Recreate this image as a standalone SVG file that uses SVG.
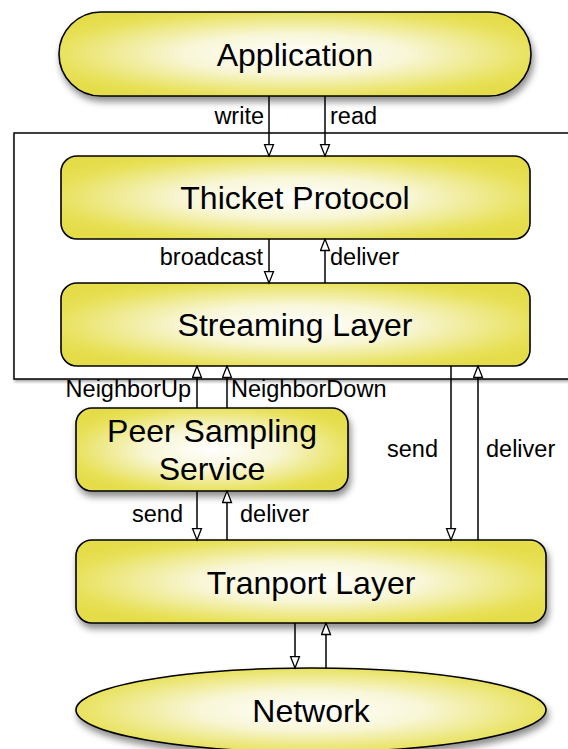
<svg xmlns="http://www.w3.org/2000/svg" width="568" height="749" viewBox="0 0 568 749">
<defs>
<radialGradient id="yg" cx="0.5" cy="0.5" r="0.6" gradientUnits="objectBoundingBox">
<stop offset="0" stop-color="#ffffff"/>
<stop offset="0.4" stop-color="#f8f6d6"/>
<stop offset="0.85" stop-color="#e8e15a"/>
<stop offset="1" stop-color="#e4dc48"/>
</radialGradient>
<filter id="sh" x="-10%" y="-20%" width="125%" height="150%">
<feDropShadow dx="2" dy="5" stdDeviation="3.5" flood-color="#000" flood-opacity="0.45"/>
</filter>
<filter id="sh2" x="-5%" y="-5%" width="115%" height="115%">
<feDropShadow dx="1" dy="2" stdDeviation="1.5" flood-color="#000" flood-opacity="0.35"/>
</filter>
<marker id="ah" markerUnits="userSpaceOnUse" markerWidth="14" markerHeight="12" viewBox="-1 -1 14 12" refX="11.5" refY="4.5" orient="auto">
<path d="M0,0 L11.5,4.5 L0,9 Z" fill="#fff" stroke="#000" stroke-width="1.3" stroke-linejoin="miter"/>
</marker>
</defs>
<style>
.node{fill:url(#yg);stroke:#000;stroke-width:1.6}
.t{font-family:"Liberation Sans",Arial,sans-serif;font-size:32px;fill:#000;text-anchor:middle}
.l{font-family:"Liberation Sans",Arial,sans-serif;font-size:23.5px;fill:#000}
.e{text-anchor:end}
.c line{stroke:#000;stroke-width:1.5;marker-end:url(#ah)}
</style>
<rect id="frame" x="14" y="133" width="570" height="246" fill="#fff" stroke="#000" stroke-width="1.5" filter="url(#sh2)"/>
<g id="application">
<rect class="node" x="59" y="12" width="472" height="84" rx="42" filter="url(#sh)"/>
<text class="t" x="295" y="66">Application</text>
</g>
<g id="thicket">
<rect class="node" x="61" y="156" width="469" height="83" rx="16"/>
<text class="t" x="295" y="209">Thicket Protocol</text>
</g>
<g id="streaming">
<rect class="node" x="61" y="283" width="469" height="83" rx="16"/>
<text class="t" x="295" y="336">Streaming Layer</text>
</g>
<g id="pss">
<rect class="node" x="76" y="408" width="272" height="83" rx="16" filter="url(#sh)"/>
<text class="t" x="212" y="442">Peer Sampling</text>
<text class="t" x="212" y="480">Service</text>
</g>
<g id="transport">
<rect class="node" x="76" y="540" width="470" height="83" rx="16" filter="url(#sh)"/>
<text class="t" x="311" y="594">Tranport Layer</text>
</g>
<g id="network">
<ellipse class="node" cx="311" cy="710" rx="235" ry="42" filter="url(#sh)"/>
<text class="t" x="311" y="722">Network</text>
</g>
<g id="connectors" class="c">
<line x1="269" y1="96" x2="269" y2="156"/>
<line x1="325" y1="96" x2="325" y2="156"/>
<line x1="269" y1="239" x2="269" y2="283"/>
<line x1="325" y1="283" x2="325" y2="239"/>
<line x1="197" y1="408" x2="197" y2="366"/>
<line x1="227" y1="408" x2="227" y2="366"/>
<line x1="197" y1="491" x2="197" y2="540"/>
<line x1="227" y1="540" x2="227" y2="491"/>
<line x1="451" y1="366" x2="451" y2="540"/>
<line x1="478" y1="540" x2="478" y2="366"/>
<line x1="295" y1="623" x2="295" y2="668"/>
<line x1="326" y1="668" x2="326" y2="623"/>
</g>
<g id="labels">
<text class="l e" x="264" y="124">write</text>
<text class="l" x="330" y="124">read</text>
<text class="l e" x="263" y="265">broadcast</text>
<text class="l" x="330" y="265">deliver</text>
<text class="l e" x="191" y="397">NeighborUp</text>
<text class="l" x="231" y="397">NeighborDown</text>
<text class="l e" x="183" y="522">send</text>
<text class="l" x="240" y="522">deliver</text>
<text class="l e" x="438" y="457">send</text>
<text class="l" x="486" y="457">deliver</text>
</g>
</svg>
